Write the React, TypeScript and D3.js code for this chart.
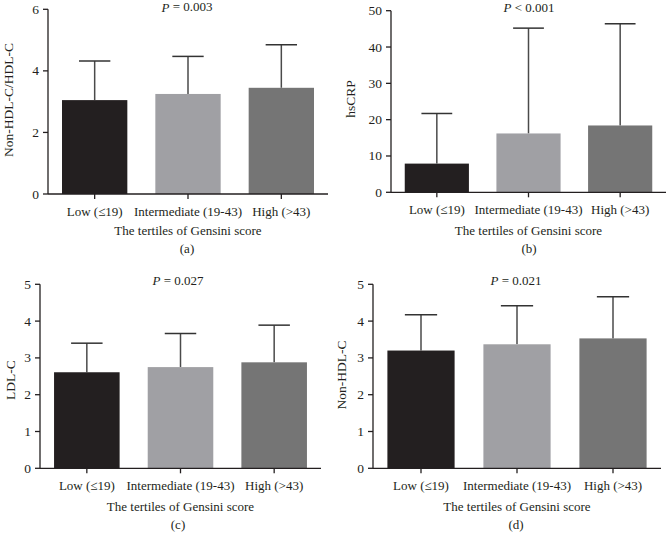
import React from "react";
import * as d3 from "d3";

const categories = ["Low (≤19)", "Intermediate (19-43)", "High (>43)"];
const barColors = ["#231f20", "#a0a0a4", "#757575"];

const ratioMeans = [3.05, 3.25, 3.45];
const ratioSD = [1.27, 1.22, 1.4];
const ratioTicks = [0, 2, 4, 6];

const crpMeans = [7.9, 16.2, 18.4];
const crpSD = [13.8, 29.0, 28.0];
const crpTicks = [0, 10, 20, 30, 40, 50];

const ldlMeans = [2.61, 2.75, 2.88];
const ldlSD = [0.79, 0.91, 1.01];
const ldlTicks = [0, 1, 2, 3, 4, 5];

const nonHdlMeans = [3.2, 3.37, 3.53];
const nonHdlSD = [0.97, 1.05, 1.13];
const nonHdlTicks = [0, 1, 2, 3, 4, 5];

const FONT = "'Liberation Serif', 'Times New Roman', serif";
const INK = "#231f20";
const FS = 13;

type PanelProps = {
  axisX: number;
  bandStart: number;
  bandEnd: number;
  yTop: number;
  yZero: number;
  yMax: number;
  ticks: number[];
  means: number[];
  sds: number[];
  yTitle: string;
  yTitleX: number;
  yTitleY: number;
  pOp: string;
  pVal: string;
  pX: number;
  pY: number;
  labelY: number;
  titleY: number;
  captionY: number;
  caption: string;
};

function Panel(p: PanelProps) {
  const x = d3.scaleBand<string>().domain(categories).range([p.bandStart, p.bandEnd]).paddingInner(0.3).paddingOuter(0.15);
  const y = d3.scaleLinear().domain([0, p.yMax]).range([p.yZero, p.yTop]);
  const bw = x.bandwidth();
  const cap = bw * 0.48;
  const centerX = (p.bandStart + p.bandEnd) / 2;
  return (
    <g fontFamily={FONT} fill={INK}>
      {categories.map((c, i) => {
        const cx = (x(c) as number) + bw / 2;
        const top = y(p.means[i]);
        const errTop = y(p.means[i] + p.sds[i]);
        return (
          <g key={c}>
            <line x1={cx} x2={cx} y1={top} y2={errTop} stroke="#4a4a4a" strokeWidth={1.5} />
            <line x1={cx - cap / 2} x2={cx + cap / 2} y1={errTop} y2={errTop} stroke="#333" strokeWidth={1.5} />
            <rect x={x(c)} y={top} width={bw} height={p.yZero - top} fill={barColors[i]} />
            <line x1={cx} x2={cx} y1={p.yZero} y2={p.yZero + 5} stroke={INK} strokeWidth={1.3} />
            <text x={cx} y={p.labelY} textAnchor="middle" dominantBaseline="central" fontSize={FS}>
              {c}
            </text>
          </g>
        );
      })}
      <line x1={p.axisX} x2={p.axisX} y1={p.yTop} y2={p.yZero} stroke={INK} strokeWidth={1.3} />
      <line x1={p.axisX} x2={p.bandEnd} y1={p.yZero} y2={p.yZero} stroke={INK} strokeWidth={1.3} />
      {p.ticks.map((t) => (
        <g key={t}>
          <line x1={p.axisX - 5} x2={p.axisX} y1={y(t)} y2={y(t)} stroke={INK} strokeWidth={1.3} />
          <text x={p.axisX - 9} y={y(t)} textAnchor="end" dominantBaseline="central" fontSize={13.5}>
            {t}
          </text>
        </g>
      ))}
      <text
        transform={`translate(${p.yTitleX},${p.yTitleY}) rotate(-90)`}
        textAnchor="middle"
        dominantBaseline="central"
        fontSize={13.5}
      >
        {p.yTitle}
      </text>
      <text x={p.pX} y={p.pY} textAnchor="middle" dominantBaseline="central" fontSize={FS}>
        <tspan fontStyle="italic">P</tspan>
        {` ${p.pOp} ${p.pVal}`}
      </text>
      <text x={centerX} y={p.titleY} textAnchor="middle" dominantBaseline="central" fontSize={FS}>
        The tertiles of Gensini score
      </text>
      <text x={p.pX} y={p.captionY} textAnchor="middle" dominantBaseline="central" fontSize={FS}>
        {p.caption}
      </text>
    </g>
  );
}

export default function App() {
  return (
    <svg width={666} height={550} style={{ position: "absolute", left: 0, top: 0, background: "#fff" }}>
      <rect width={666} height={550} fill="#fff" />
      <Panel
        axisX={48} bandStart={48} bandEnd={328} yTop={9.3} yZero={194} yMax={6}
        ticks={ratioTicks} means={ratioMeans} sds={ratioSD}
        yTitle="Non-HDL-C/HDL-C" yTitleX={8} yTitleY={100}
        pOp="=" pVal="0.003" pX={187} pY={6.5}
        labelY={211} titleY={230} captionY={248} caption="(a)"
      />
      <Panel
        axisX={391} bandStart={391} bandEnd={666} yTop={10.7} yZero={192.3} yMax={50}
        ticks={crpTicks} means={crpMeans} sds={crpSD}
        yTitle="hsCRP" yTitleX={350} yTitleY={99}
        pOp="<" pVal="0.001" pX={529} pY={7}
        labelY={209} titleY={230} captionY={248} caption="(b)"
      />
      <Panel
        axisX={40} bandStart={40} bandEnd={321} yTop={284.3} yZero={468.3} yMax={5}
        ticks={ldlTicks} means={ldlMeans} sds={ldlSD}
        yTitle="LDL-C" yTitleX={10} yTitleY={380}
        pOp="=" pVal="0.027" pX={178} pY={280}
        labelY={485.5} titleY={506} captionY={524} caption="(c)"
      />
      <Panel
        axisX={373} bandStart={373} bandEnd={661} yTop={284.3} yZero={468.3} yMax={5}
        ticks={nonHdlTicks} means={nonHdlMeans} sds={nonHdlSD}
        yTitle="Non-HDL-C" yTitleX={341} yTitleY={375}
        pOp="=" pVal="0.021" pX={516} pY={280}
        labelY={485.5} titleY={506} captionY={524} caption="(d)"
      />
    </svg>
  );
}
